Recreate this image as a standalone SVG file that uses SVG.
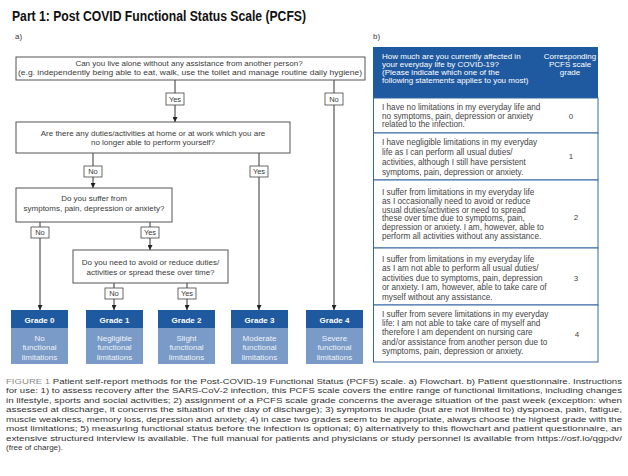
<svg xmlns="http://www.w3.org/2000/svg" width="628" height="476" viewBox="0 0 628 476">
<style>
text{font-family:"Liberation Sans",Arial,sans-serif;fill:#3a3a3a}
.title{font-size:14px;font-weight:bold;fill:#111}
.lab{font-size:8px}
.q{font-size:8px;text-anchor:middle}
.box{fill:#fff;stroke:#555;stroke-width:1}
.tag{fill:#fff;stroke:#444;stroke-width:0.8}
.tagt{font-size:7.5px;text-anchor:middle}
.conn{stroke:#333;stroke-width:1;fill:none}
.gh{fill:#1f5aa0}
.gb{fill:#7a9bc7}
.ght{font-size:8px;font-weight:bold;fill:#fff;text-anchor:middle}
.gbt{font-size:8px;fill:#eef2f8;text-anchor:middle}
.th{fill:#1f5aa0}
.tht{font-size:8px;fill:#fff}
.tr{fill:#fff;stroke:#3566a6;stroke-width:1}
.tt{font-size:8.2px;fill:#444}
.tv{font-size:8px;text-anchor:middle;fill:#444}
.cap{font-size:8px;fill:#333}
</style>
<defs>
<marker id="arr" markerWidth="5" markerHeight="5" refX="5" refY="2.5" orient="auto" markerUnits="userSpaceOnUse">
<path d="M0,0 L5,2.5 L0,5 z" fill="#222"/>
</marker>
</defs>
<rect width="628" height="476" fill="#fff"/>
<text class="title" x="12" y="21" textLength="294" lengthAdjust="spacingAndGlyphs">Part 1:  Post COVID Functional Status Scale (PCFS)</text>
<text class="lab" x="15" y="39">a)</text>
<text class="lab" x="373" y="39">b)</text>

<g id="connectors">
<line class="conn" x1="175" y1="80" x2="175" y2="122" marker-end="url(#arr)"/>
<line class="conn" x1="334" y1="80" x2="334" y2="310" marker-end="url(#arr)"/>
<line class="conn" x1="93" y1="153" x2="93" y2="188" marker-end="url(#arr)"/>
<line class="conn" x1="259" y1="153" x2="259" y2="310" marker-end="url(#arr)"/>
<line class="conn" x1="40" y1="222" x2="40" y2="310" marker-end="url(#arr)"/>
<line class="conn" x1="150" y1="222" x2="150" y2="250" marker-end="url(#arr)"/>
<line class="conn" x1="114" y1="283" x2="114" y2="310" marker-end="url(#arr)"/>
<line class="conn" x1="187" y1="283" x2="187" y2="310" marker-end="url(#arr)"/>
<rect class="tag" x="166" y="93" width="18" height="12"/><text class="tagt" x="175" y="101.5">Yes</text>
<rect class="tag" x="325" y="93" width="18" height="12"/><text class="tagt" x="334" y="101.5">No</text>
<rect class="tag" x="84" y="166" width="18" height="11"/><text class="tagt" x="93" y="174.3">No</text>
<rect class="tag" x="250" y="166" width="18" height="11"/><text class="tagt" x="259" y="174.3">Yes</text>
<rect class="tag" x="31" y="227" width="18" height="11"/><text class="tagt" x="40" y="235.3">No</text>
<rect class="tag" x="141" y="227" width="18" height="11"/><text class="tagt" x="150" y="235.3">Yes</text>
<rect class="tag" x="105" y="288" width="18" height="11"/><text class="tagt" x="114" y="296.3">No</text>
<rect class="tag" x="178" y="288" width="18" height="11"/><text class="tagt" x="187" y="296.3">Yes</text>
</g>

<g id="q1">
<rect class="box" x="16" y="57" width="349" height="23"/>
<text class="q" x="189" y="66">Can you live alone without any assistance from another person?</text>
<text class="q" x="190" y="75" textLength="344" lengthAdjust="spacingAndGlyphs">(e.g. independently being able to eat, walk, use the toilet and manage routine daily hygiene)</text>
</g>
<g id="q2">
<rect class="box" x="16" y="122" width="274" height="31"/>
<text class="q" x="153" y="135.5">Are there any duties/activities at home or at work which you are</text>
<text class="q" x="153" y="145">no longer able to perform yourself?</text>
</g>
<g id="q3">
<rect class="box" x="16" y="188" width="156" height="34"/>
<text class="q" x="94" y="201">Do you suffer from</text>
<text class="q" x="94" y="211">symptoms, pain, depression or anxiety?</text>
</g>
<g id="q4">
<rect class="box" x="73" y="250" width="155" height="33"/>
<text class="q" x="150.5" y="264.5">Do you need to avoid or reduce duties/</text>
<text class="q" x="150.5" y="274.5">activities or spread these over time?</text>
</g>

<g id="grade0">
<rect class="gh" x="11" y="310" width="57" height="18"/><rect class="gb" x="11" y="328" width="57" height="36"/>
<text class="ght" x="39.5" y="323">Grade 0</text>
<text class="gbt" x="39.5" y="340.5">No</text><text class="gbt" x="39.5" y="350">functional</text><text class="gbt" x="39.5" y="359.5">limitations</text>
</g>
<g id="grade1">
<rect class="gh" x="86" y="310" width="57" height="18"/><rect class="gb" x="86" y="328" width="57" height="36"/>
<text class="ght" x="114.5" y="323">Grade 1</text>
<text class="gbt" x="114.5" y="340.5">Negligible</text><text class="gbt" x="114.5" y="350">functional</text><text class="gbt" x="114.5" y="359.5">limitations</text>
</g>
<g id="grade2">
<rect class="gh" x="158" y="310" width="57" height="18"/><rect class="gb" x="158" y="328" width="57" height="36"/>
<text class="ght" x="186.5" y="323">Grade 2</text>
<text class="gbt" x="186.5" y="340.5">Slight</text><text class="gbt" x="186.5" y="350">functional</text><text class="gbt" x="186.5" y="359.5">limitations</text>
</g>
<g id="grade3">
<rect class="gh" x="231" y="310" width="57" height="18"/><rect class="gb" x="231" y="328" width="57" height="36"/>
<text class="ght" x="259.5" y="323">Grade 3</text>
<text class="gbt" x="259.5" y="340.5">Moderate</text><text class="gbt" x="259.5" y="350">functional</text><text class="gbt" x="259.5" y="359.5">limitations</text>
</g>
<g id="grade4">
<rect class="gh" x="306" y="310" width="57" height="18"/><rect class="gb" x="306" y="328" width="57" height="36"/>
<text class="ght" x="334.5" y="323">Grade 4</text>
<text class="gbt" x="334.5" y="340.5">Severe</text><text class="gbt" x="334.5" y="350">functional</text><text class="gbt" x="334.5" y="359.5">limitations</text>
</g>

<g id="table">
<rect class="th" x="373" y="47" width="225" height="51"/>
<text class="tht" x="382" y="58.5">How much are you currently affected in</text>
<text class="tht" x="382" y="66.5">your everyday life by COVID-19?</text>
<text class="tht" x="382" y="74.5">(Please indicate which one of the</text>
<text class="tht" x="382" y="82.5">following statements applies to you most)</text>
<text class="tht" x="570" y="58.5" text-anchor="middle">Corresponding</text>
<text class="tht" x="570" y="66.5" text-anchor="middle">PCFS scale</text>
<text class="tht" x="570" y="74.5" text-anchor="middle">grade</text>

<rect class="tr" x="373.5" y="98" width="224.5" height="35"/>
<text class="tt" x="382" y="110">I have no limitations in my everyday life and</text>
<text class="tt" x="382" y="118.5">no symptoms, pain, depression or anxiety</text>
<text class="tt" x="382" y="127">related to the infection.</text>
<text class="tv" x="571" y="118.5">0</text>

<rect class="tr" x="373.5" y="133" width="224.5" height="47"/>
<text class="tt" x="382" y="145">I have negligible limitations in my everyday</text>
<text class="tt" x="382" y="154.5">life as I can perform all usual duties/</text>
<text class="tt" x="382" y="164.5">activities, although I still have persistent</text>
<text class="tt" x="382" y="174.5">symptoms, pain, depression or anxiety.</text>
<text class="tv" x="571" y="159">1</text>

<rect class="tr" x="373.5" y="180" width="224.5" height="68"/>
<text class="tt" x="382" y="195">I suffer from limitations in my everyday life</text>
<text class="tt" x="382" y="203.5">as I occasionally need to avoid or reduce</text>
<text class="tt" x="382" y="212.5">usual duties/activities or need to spread</text>
<text class="tt" x="382" y="221">these over time due to symptoms, pain,</text>
<text class="tt" x="382" y="229.5">depression or anxiety. I am, however, able to</text>
<text class="tt" x="382" y="238.5">perform all activities without any assistance.</text>
<text class="tv" x="576" y="220">2</text>

<rect class="tr" x="373.5" y="248" width="224.5" height="57"/>
<text class="tt" x="382" y="262">I suffer from limitations in my everyday life</text>
<text class="tt" x="382" y="271">as I am not able to perform all usual duties/</text>
<text class="tt" x="382" y="280.5">activities due to symptoms, pain, depression</text>
<text class="tt" x="382" y="290">or anxiety. I am, however, able to take care of</text>
<text class="tt" x="382" y="300">myself without any assistance.</text>
<text class="tv" x="576" y="280.5">3</text>

<rect class="tr" x="373.5" y="305" width="224.5" height="57"/>
<text class="tt" x="382" y="316.5">I suffer from severe limitations in my everyday</text>
<text class="tt" x="382" y="325.5">life: I am not able to take care of myself and</text>
<text class="tt" x="382" y="335">therefore I am dependent on nursing care</text>
<text class="tt" x="382" y="344.5">and/or assistance from another person due to</text>
<text class="tt" x="382" y="354">symptoms, pain, depression or anxiety.</text>
<text class="tv" x="577" y="336.5">4</text>
</g>

<g id="caption">
<text class="cap" x="6" y="383.5" textLength="616" lengthAdjust="spacingAndGlyphs"><tspan fill="#8a8a8a">FIGURE 1</tspan> Patient self-report methods for the Post-COVID-19 Functional Status (PCFS) scale. a) Flowchart. b) Patient questionnaire. Instructions</text>
<text class="cap" x="6" y="393" textLength="616" lengthAdjust="spacingAndGlyphs">for use: 1) to assess recovery after the SARS-CoV-2 infection, this PCFS scale covers the entire range of functional limitations, including changes</text>
<text class="cap" x="6" y="402.5" textLength="616" lengthAdjust="spacingAndGlyphs">in lifestyle, sports and social activities; 2) assignment of a PCFS scale grade concerns the average situation of the past week (exception: when</text>
<text class="cap" x="6" y="412" textLength="616" lengthAdjust="spacingAndGlyphs">assessed at discharge, it concerns the situation of the day of discharge); 3) symptoms include (but are not limited to) dyspnoea, pain, fatigue,</text>
<text class="cap" x="6" y="421.5" textLength="616" lengthAdjust="spacingAndGlyphs">muscle weakness, memory loss, depression and anxiety; 4) in case two grades seem to be appropriate, always choose the highest grade with the</text>
<text class="cap" x="6" y="431" textLength="616" lengthAdjust="spacingAndGlyphs">most limitations; 5) measuring functional status before the infection is optional; 6) alternatively to this flowchart and patient questionnaire, an</text>
<text class="cap" x="6" y="440.5" textLength="616" lengthAdjust="spacingAndGlyphs">extensive structured interview is available. The full manual for patients and physicians or study personnel is available from https://osf.io/qgpdv/</text>
<text class="cap" x="6" y="450" font-size="7.6">(free of charge).</text>
</g>
</svg>
